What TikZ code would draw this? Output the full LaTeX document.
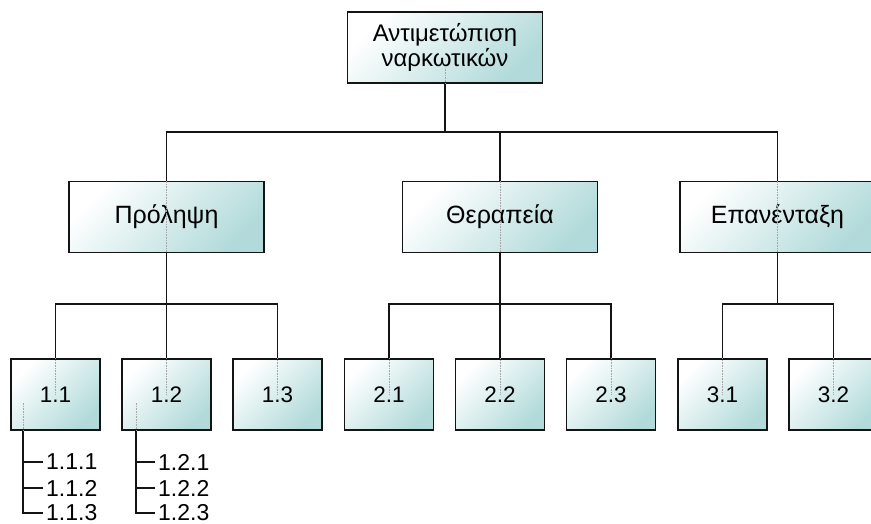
\documentclass[tikz,border=0pt]{standalone}
\usepackage{fontspec}
\setmainfont{Liberation Sans}
\definecolor{boxteal}{RGB}{178,218,218}
\definecolor{edgegray}{RGB}{20,20,20}
\tikzset{
  box/.style={draw=edgegray, line width=1.3pt, top color=white, bottom color=boxteal,
    shading angle=45, inner sep=0pt, text=black},
  bigbox/.style={box, minimum width=195pt, minimum height=71pt, font=\fontsize{25}{25}\selectfont},
  smallbox/.style={box, minimum width=89pt, minimum height=71pt, font=\fontsize{22.5}{25}\selectfont},
  conn/.style={draw=edgegray, line width=1.3pt},
  ghost/.style={draw=gray!70, line width=0.6pt, densely dotted},
  item/.style={anchor=west, inner sep=0pt, font=\fontsize{23}{25}\selectfont},
}
\begin{document}
\begin{tikzpicture}[x=1pt, y=-1pt]
\useasboundingbox (0,0) rectangle (871,524);
\clip (0,0) rectangle (871,524);
% junction coordinates
\coordinate (j0) at (445,132);
\coordinate (j1) at (166.5,304);
\coordinate (j2) at (500,304);
\coordinate (j3) at (777.5,304);
% boxes
\node[bigbox, align=center, font=\fontsize{24}{25}\selectfont] (top) at (445,47.5) {Αντιμετώπιση\\ναρκωτικών};
\node[bigbox] (p) at (166.5,217) {Πρόληψη};
\node[bigbox] (t) at (500,217) {Θεραπεία};
\node[bigbox] (e) at (777.5,217) {Επανένταξη};
\node[smallbox] (n11) at (55.5,394.5) {1.1};
\node[smallbox] (n12) at (166.5,394.5) {1.2};
\node[smallbox] (n13) at (277.5,394.5) {1.3};
\node[smallbox] (n21) at (389,394.5) {2.1};
\node[smallbox] (n22) at (500,394.5) {2.2};
\node[smallbox] (n23) at (611,394.5) {2.3};
\node[smallbox] (n31) at (722.5,394.5) {3.1};
\node[smallbox] (n32) at (833.5,394.5) {3.2};
% faint lines showing through the boxes
\draw[ghost] (top.south) -- ++(0,-16);
\draw[ghost] (p.north) -- (p.south);
\draw[ghost] (t.north) -- (t.south);
\draw[ghost] (e.north) -- (e.south);
\foreach \n in {n11,n12,n13,n21,n22,n23,n31,n32}
  \draw[ghost] (\n.north) -- ++(0,36);
\draw[ghost] ([xshift=-32.5pt]n11.south) -- ++(0,-28);
\draw[ghost] ([xshift=-30.5pt]n12.south) -- ++(0,-28);
% tree connectors
\draw[conn] (top.south) -- (j0);
\draw[conn] (p.north) |- (j0) -| (e.north);
\draw[conn] (t.north) -- (t.north |- j0);
\draw[conn] (p.south) -- (j1);
\draw[conn] (n11.north) |- (j1) -| (n13.north);
\draw[conn] (n12.north) -- (n12.north |- j1);
\draw[conn] (t.south) -- (j2);
\draw[conn] (n21.north) |- (j2) -| (n23.north);
\draw[conn] (n22.north) -- (n22.north |- j2);
\draw[conn] (e.south) -- (j3);
\draw[conn] (n31.north) |- (j3) -| (n32.north);
% sub-item lists
\node[item] (i111) at (46,462) {1.1.1};
\node[item] (i112) at (46,488) {1.1.2};
\node[item] (i113) at (46,513) {1.1.3};
\node[item] (i121) at (158,462) {1.2.1};
\node[item] (i122) at (158,488) {1.2.2};
\node[item] (i123) at (158,513) {1.2.3};
\draw[conn] ([xshift=-32.5pt]n11.south) |- ([xshift=-3pt]i113.west);
\draw[conn] ([xshift=-32.5pt]n11.south |- i111.west) -- ([xshift=-3pt]i111.west);
\draw[conn] ([xshift=-32.5pt]n11.south |- i112.west) -- ([xshift=-3pt]i112.west);
\draw[conn] ([xshift=-30.5pt]n12.south) |- ([xshift=-3pt]i123.west);
\draw[conn] ([xshift=-30.5pt]n12.south |- i121.west) -- ([xshift=-3pt]i121.west);
\draw[conn] ([xshift=-30.5pt]n12.south |- i122.west) -- ([xshift=-3pt]i122.west);
\end{tikzpicture}
\end{document}
